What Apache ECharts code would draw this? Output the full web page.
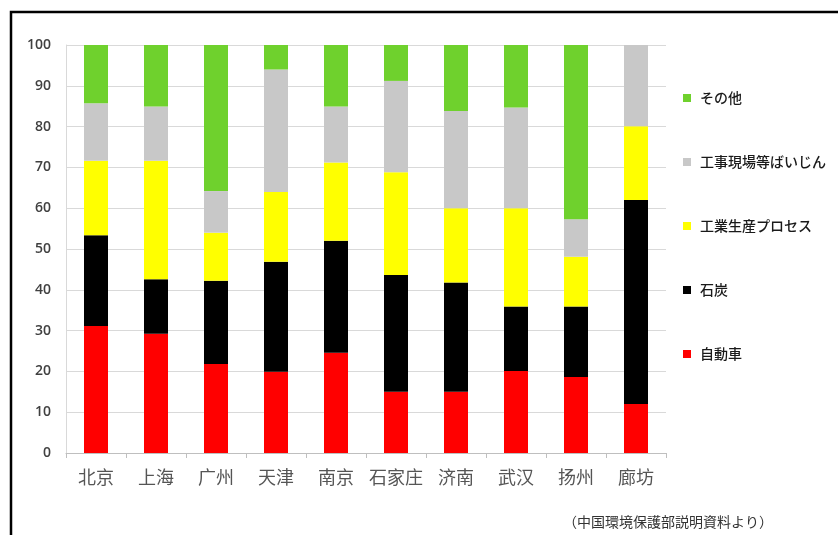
<!DOCTYPE html>
<html>
<head>
<meta charset="utf-8">
<script src="https://cdn.jsdelivr.net/npm/echarts@6/dist/echarts.min.js"></script>
<style>
  html, body { margin: 0; padding: 0; background: #fff; }
  #chart { width: 838px; height: 535px; }
</style>
</head>
<body>
<div id="chart"></div>
<script>
// Cities along the x axis
const cities = ['北京', '上海', '广州', '天津', '南京', '石家庄', '济南', '武汉', '扬州', '廊坊'];

// Share of PM2.5 sources per city (%), stacked bottom to top
const carValues      = [31.1, 29.2, 21.8, 19.9, 24.6, 15.0, 15.0, 20.1, 18.6, 12.0];
const coalValues     = [22.3, 13.4, 20.4, 27.0, 27.4, 28.6, 26.8, 15.8, 17.3, 50.0];
const industryValues = [18.2, 29.0, 11.8, 17.1, 19.2, 25.2, 18.2, 24.1, 12.2, 18.1];
const dustValues     = [14.1, 13.3, 10.2, 30.0, 13.7, 22.4, 23.8, 24.7, 9.2, 19.9];
const otherValues    = [14.3, 15.1, 35.8, 6.0, 15.1, 8.8, 16.2, 15.3, 42.7, 0];

const seriesNames = ['自動車', '石炭', '工業生産プロセス', '工事現場等ばいじん', 'その他'];
const yTicks = { min: 0, max: 100, interval: 10 };
const sourceNote = '（中国環境保護部説明資料より）';

const colors = ['#ff0000', '#000000', '#ffff00', '#c8c8c8', '#6fd12d'];
const valueSets = [carValues, coalValues, industryValues, dustValues, otherValues];

const chart = echarts.init(document.getElementById('chart'));

chart.setOption({
  animation: false,
  backgroundColor: '#ffffff',
  grid: { left: 66, right: 172, top: 45, bottom: 82, containLabel: false },
  legend: {
    orient: 'vertical',
    left: 678,
    top: 86,
    itemWidth: 8,
    itemHeight: 8,
    itemGap: 50,
    icon: 'rect',
    data: seriesNames.slice().reverse(),
    textStyle: {
      fontFamily: '"Noto Sans CJK JP", sans-serif',
      fontSize: 14,
      fontWeight: 500,
      color: '#1a1a1a',
      padding: [0, 0, 0, 4]
    }
  },
  xAxis: {
    type: 'category',
    data: cities,
    axisLine: { show: true, lineStyle: { color: '#bfbfbf', width: 1 } },
    axisTick: { show: true, interval: 0, alignWithLabel: false, length: 5, lineStyle: { color: '#bfbfbf' } },
    axisLabel: {
      interval: 0,
      margin: 15,
      fontFamily: '"Noto Sans CJK SC", serif',
      fontSize: 18,
      color: '#555555'
    }
  },
  yAxis: {
    type: 'value',
    min: yTicks.min,
    max: yTicks.max,
    interval: yTicks.interval,
    axisLine: { show: true, lineStyle: { color: '#d9d9d9' } },
    axisTick: { show: false },
    splitLine: { show: true, lineStyle: { color: '#d9d9d9', width: 1 } },
    axisLabel: {
      margin: 15,
      fontFamily: '"Open Sans", "Liberation Sans", sans-serif',
      fontSize: 14,
      fontWeight: 600,
      color: '#404040'
    }
  },
  series: seriesNames.map((name, i) => ({
    name: name,
    type: 'bar',
    stack: 'share',
    barWidth: 24,
    itemStyle: { color: colors[i] },
    data: valueSets[i]
  })),
  graphic: [
    {
      type: 'polyline',
      silent: true,
      shape: { points: [[11, 545], [11, 12], [850, 12]] },
      style: { stroke: '#000000', lineWidth: 2.5, fill: null }
    },
    {
      type: 'text',
      left: 563,
      top: 515,
      style: {
        text: sourceNote,
        fontFamily: '"Noto Sans CJK JP", sans-serif',
        fontSize: 14,
        fill: '#333333'
      }
    }
  ]
});
</script>
</body>
</html>
